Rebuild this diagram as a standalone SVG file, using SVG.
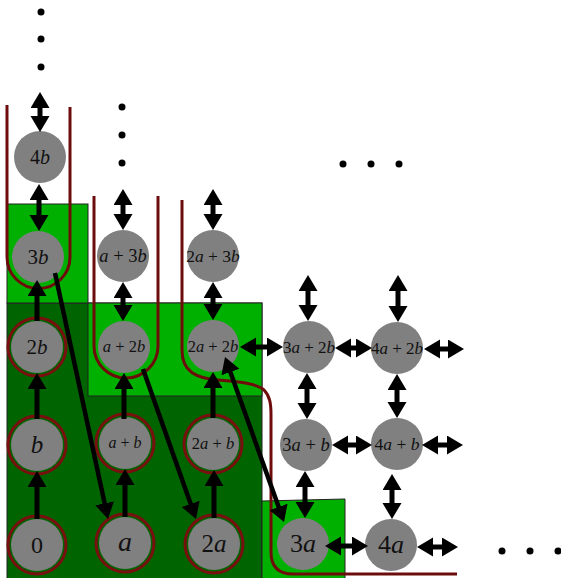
<svg xmlns="http://www.w3.org/2000/svg" width="561" height="578" viewBox="0 0 561 578">
<defs>
<marker id="ah" markerUnits="userSpaceOnUse" markerWidth="20" markerHeight="20" refX="2" refY="9.5" orient="auto-start-reverse"><path d="M0,0 L16,9.5 L0,19 z" fill="#000"/></marker>
<style>
.lg{fill:#00b000;stroke:#222;stroke-width:1}
.dg{fill:#006400;stroke:#222;stroke-width:1}
.ring{fill:none;stroke:#781010;stroke-width:3}
.nd{fill:#808080}
.t{font-family:"Liberation Serif","DejaVu Serif",serif;fill:#111;text-anchor:middle}
.i{font-style:italic}
.red{fill:none;stroke:#6e0c0c;stroke-width:3}
.a2{stroke:#000;stroke-width:5;fill:none;marker-start:url(#ah);marker-end:url(#ah)}
.a1{stroke:#000;stroke-width:5;fill:none;marker-end:url(#ah)}
.ad{stroke:#000;stroke-width:4.5;fill:none;marker-end:url(#ah)}
.dot{fill:#000}
</style>
</defs>
<rect width="561" height="578" fill="#fff"/>
<g id="regions">
<rect class="dg" x="7" y="303" width="255" height="280"/>
<rect class="lg" x="7" y="204" width="81" height="99"/>
<rect class="lg" x="88" y="303" width="174" height="93"/>
<polygon class="lg" points="262,501 345,499 345,583 262,583"/>
</g>
<g id="boundaries">
<path class="red" d="M7,105 V257 A31.5,31.5 0 0 0 70,257 V107"/>
<path class="red" d="M94,196 V346 A32,32 0 0 0 158,346 V196"/>
<path class="red" d="M182,200 V350 C182,372 196,378 218,380 C238,382 256,383 264,390 C270,396 271,404 271,415 V552 Q271,574 293,574 H457"/>
</g>
<g id="rings">
<circle class="ring" cx="37" cy="545" r="29"/>
<circle class="ring" cx="125" cy="543" r="29"/>
<circle class="ring" cx="214" cy="544" r="29"/>
<circle class="ring" cx="37" cy="445" r="29"/>
<circle class="ring" cx="125" cy="443" r="29"/>
<circle class="ring" cx="213" cy="444" r="29"/>
<circle class="ring" cx="37" cy="347" r="29"/>
</g>
<g id="n0"><circle class="nd" cx="37" cy="545" r="26"/><text class="t" x="37" y="553" font-size="24">0</text></g>
<g id="na"><circle class="nd" cx="125" cy="543" r="26"/><text class="t i" x="125" y="551" font-size="28">a</text></g>
<g id="n2a"><circle class="nd" cx="214" cy="544" r="26"/><text class="t" x="214" y="552" font-size="25">2<tspan class="i">a</tspan></text></g>
<g id="n3a"><circle class="nd" cx="303" cy="544" r="26"/><text class="t" x="303" y="552" font-size="26">3<tspan class="i">a</tspan></text></g>
<g id="n4a"><circle class="nd" cx="391" cy="545" r="26"/><text class="t" x="391" y="553" font-size="26">4<tspan class="i">a</tspan></text></g>
<g id="nb"><circle class="nd" cx="37" cy="445" r="26"/><text class="t i" x="37" y="453" font-size="25">b</text></g>
<g id="nab"><circle class="nd" cx="125" cy="443" r="26"/><text class="t" x="125" y="448" font-size="16"><tspan class="i">a</tspan> + <tspan class="i">b</tspan></text></g>
<g id="n2ab"><circle class="nd" cx="213" cy="444" r="26"/><text class="t" x="213" y="449" font-size="16.5">2<tspan class="i">a</tspan> + <tspan class="i">b</tspan></text></g>
<g id="n3ab"><circle class="nd" cx="306" cy="445" r="26"/><text class="t" x="306" y="451" font-size="18.5">3<tspan class="i">a</tspan> + <tspan class="i">b</tspan></text></g>
<g id="n4ab"><circle class="nd" cx="397" cy="444" r="26"/><text class="t" x="397" y="450" font-size="17.5">4<tspan class="i">a</tspan> + <tspan class="i">b</tspan></text></g>
<g id="n2b"><circle class="nd" cx="37" cy="347" r="26"/><text class="t" x="37" y="354" font-size="21">2<tspan class="i">b</tspan></text></g>
<g id="na2b"><circle class="nd" cx="124" cy="347" r="26"/><text class="t" x="124" y="352" font-size="16.5"><tspan class="i">a</tspan> + 2<tspan class="i">b</tspan></text></g>
<g id="n2a2b"><circle class="nd" cx="213" cy="346" r="26"/><text class="t" x="213" y="352" font-size="16.5">2<tspan class="i">a</tspan> + 2<tspan class="i">b</tspan></text></g>
<g id="n3a2b"><circle class="nd" cx="309" cy="347" r="26"/><text class="t" x="309" y="353" font-size="17">3<tspan class="i">a</tspan> + 2<tspan class="i">b</tspan></text></g>
<g id="n4a2b"><circle class="nd" cx="397" cy="348" r="26"/><text class="t" x="397" y="354" font-size="17">4<tspan class="i">a</tspan> + 2<tspan class="i">b</tspan></text></g>
<g id="n3b"><circle class="nd" cx="38" cy="257" r="26"/><text class="t" x="38" y="264" font-size="21">3<tspan class="i">b</tspan></text></g>
<g id="na3b"><circle class="nd" cx="123" cy="256" r="26"/><text class="t" x="123" y="262" font-size="18.5"><tspan class="i">a</tspan> + 3<tspan class="i">b</tspan></text></g>
<g id="n2a3b"><circle class="nd" cx="213" cy="256" r="26"/><text class="t" x="213" y="262" font-size="17.5">2<tspan class="i">a</tspan> + 3<tspan class="i">b</tspan></text></g>
<g id="n4b"><circle class="nd" cx="40" cy="157" r="26"/><text class="t" x="40" y="164" font-size="20">4<tspan class="i">b</tspan></text></g>
<g id="connectors">
<line class="a2" x1="40" y1="106" x2="40" y2="118"/>
<line class="a2" x1="39" y1="198" x2="39" y2="217"/>
<line class="a2" x1="123" y1="203" x2="123" y2="216"/>
<line class="a2" x1="123" y1="296" x2="123" y2="307"/>
<line class="a2" x1="213" y1="203" x2="213" y2="216"/>
<line class="a2" x1="213" y1="296" x2="213" y2="306"/>
<line class="a2" x1="308" y1="289" x2="308" y2="307"/>
<line class="a2" x1="398" y1="289" x2="398" y2="308"/>
<line class="a2" x1="307" y1="387" x2="307" y2="405"/>
<line class="a2" x1="397" y1="388" x2="397" y2="404"/>
<line class="a2" x1="305" y1="485" x2="305" y2="504"/>
<line class="a2" x1="392" y1="488" x2="392" y2="505"/>
<line class="a2" x1="254" y1="347" x2="269" y2="347"/>
<line class="a2" x1="349" y1="348" x2="358" y2="348"/>
<line class="a2" x1="438" y1="349" x2="450" y2="349"/>
<line class="a2" x1="346" y1="445" x2="358" y2="445"/>
<line class="a2" x1="436" y1="445" x2="449" y2="445"/>
<line class="a2" x1="339" y1="546" x2="354" y2="546"/>
<line class="a2" x1="431" y1="547" x2="444" y2="547"/>
<line class="a1" x1="37" y1="519" x2="37" y2="485"/>
<line class="a1" x1="37" y1="419" x2="37" y2="387"/>
<line class="a1" x1="37" y1="321" x2="37" y2="294"/>
<line class="a1" x1="125" y1="517" x2="125" y2="483"/>
<line class="a1" x1="124" y1="419" x2="124" y2="387"/>
<line class="a1" x1="214" y1="518" x2="214" y2="484"/>
<line class="a1" x1="213" y1="418" x2="213" y2="386"/>
<line class="ad" x1="55" y1="273" x2="105.05" y2="505.31"/>
<line class="ad" x1="143" y1="369" x2="191.34" y2="505.8"/>
<line class="ad" style="marker-start:url(#ah)" x1="229.71" y1="370.19" x2="279.29" y2="508.81"/>
</g>
<g id="dots">
<circle class="dot" cx="41" cy="12" r="3.5"/>
<circle class="dot" cx="41" cy="39" r="3.5"/>
<circle class="dot" cx="41" cy="67" r="3.5"/>
<circle class="dot" cx="122" cy="107" r="3.5"/>
<circle class="dot" cx="122" cy="135" r="3.5"/>
<circle class="dot" cx="122" cy="163" r="3.5"/>
<circle class="dot" cx="343" cy="164" r="3.5"/>
<circle class="dot" cx="371" cy="164" r="3.5"/>
<circle class="dot" cx="399" cy="164" r="3.5"/>
<circle class="dot" cx="502" cy="551" r="3.5"/>
<circle class="dot" cx="530" cy="551" r="3.5"/>
<circle class="dot" cx="558" cy="551" r="3.5"/>
</g>
</svg>
